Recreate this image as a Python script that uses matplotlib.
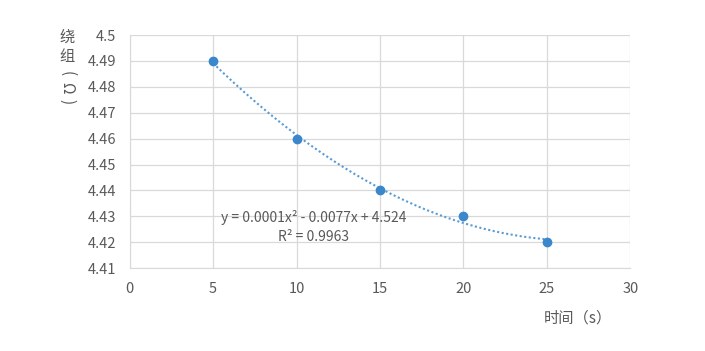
import numpy as np
import matplotlib.pyplot as plt

plt.rcParams['font.family'] = ['Noto Sans CJK SC', 'DejaVu Sans']

# Data
times = [5, 10, 15, 20, 25]
winding = [4.49, 4.46, 4.44, 4.43, 4.42]
x_ticks = [0, 5, 10, 15, 20, 25, 30]
y_ticks = [4.41, 4.42, 4.43, 4.44, 4.45, 4.46, 4.47, 4.48, 4.49, 4.5]
y_tick_labels = ['4.41', '4.42', '4.43', '4.44', '4.45', '4.46', '4.47', '4.48', '4.49', '4.5']
equation = 'y = 0.0001x² - 0.0077x + 4.524'
r_squared = 'R² = 0.9963'

blue = '#3a87cc'
trend_blue = '#5b9bd5'
gray = '#595959'

fig = plt.figure(figsize=(7.05, 3.51), dpi=100)
ax = fig.add_axes([0.184, 0.236, 0.71, 0.664])

# 2nd order polynomial trend line
coef = np.polyfit(times, winding, 2)
xs = np.linspace(times[0], times[-1], 200)
ax.plot(xs, np.polyval(coef, xs), color=trend_blue, linestyle=(0, (1, 1.2)), linewidth=1.5)
ax.plot(times, winding, 'o', color=blue, markersize=6)

ax.set_xlim(0, 30)
ax.set_ylim(4.41, 4.5)
ax.set_xticks(x_ticks)
ax.set_yticks(y_ticks)
ax.set_yticklabels(y_tick_labels)
ax.grid(True, color='#d9d9d9', linewidth=0.9)
ax.set_axisbelow(True)
for s in ax.spines.values():
    s.set_visible(False)
ax.spines['left'].set_visible(True)
ax.spines['left'].set_color('#d9d9d9')
ax.spines['bottom'].set_visible(True)
ax.spines['bottom'].set_color('#d9d9d9')
ax.tick_params(length=0, colors=gray, labelsize=10.5, pad=10)

ax.text(11, 4.4297, equation, ha='center', va='center', color=gray, fontsize=10)
ax.text(11, 4.4219, r_squared, ha='center', va='center', color=gray, fontsize=10)

# Axis titles
fig.text(578 / 705, 1 - 318 / 351, '时间（s）', ha='center', va='center', color=gray, fontsize=11)
fig.text(67 / 705, 1 - 37 / 351, '绕', ha='center', va='center', color=gray, fontsize=11)
fig.text(67 / 705, 1 - 56 / 351, '组', ha='center', va='center', color=gray, fontsize=11)
for ch, yp in [('(', 74), ('Ω', 88), (')', 102)]:
    fig.text(67 / 705, 1 - yp / 351, ch, ha='center', va='center', color=gray,
             fontsize=11, rotation=-90)

fig.savefig('out.png', dpi=100)
